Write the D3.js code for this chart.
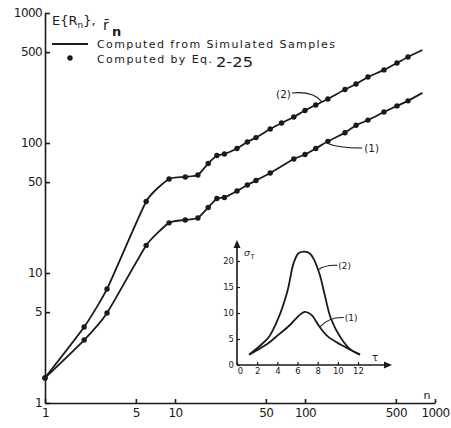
<!DOCTYPE html>
<html lang="en">
<head>
<meta charset="utf-8">
<title>E{Rn} against n</title>
<script src="https://d3js.org/d3.v7.min.js"></script>
<style>
  body { margin: 0; background: #fff; }
  svg text { font-family: "DejaVu Sans", sans-serif; fill: #1a1a1a; }
</style>
</head>
<body>
<script>
// points computed by Eq. 2-25, curve (2)
var nDots2 = [1, 2, 3, 6, 9, 12, 15, 18, 21, 24, 30, 36, 42, 54, 66, 82, 100, 121, 150, 203, 247, 305, 405, 510, 620];
var rDots2 = [1.56, 3.84, 7.54, 35.5, 52.9, 54.8, 56.7, 69.5, 80.1, 82.3, 90.7, 101.8, 110, 128, 142.6, 158.5, 178, 196, 218, 258, 284, 322, 365, 412, 459];
// points computed by Eq. 2-25, curve (1)
var nDots1 = [1, 2, 3, 6, 9, 12, 15, 18, 21, 24, 30, 36, 42, 54, 82, 100, 121, 150, 203, 247, 305, 405, 510, 620];
var rDots1 = [1.56, 3.05, 4.93, 16.3, 24.3, 25.6, 26.5, 31.9, 37.4, 38.1, 42.7, 47.5, 51.5, 58.8, 75.3, 81.6, 90.7, 103, 120, 137, 150, 173, 193, 211];
// simulated curves run a little past the last point
var nLineEnd = 800;
var rLineEnd2 = 519;
var rLineEnd1 = 243;

var nTicks = [1, 5, 10, 50, 100, 500, 1000];
var rTicks = [1, 5, 10, 50, 100, 500, 1000];

// inset: sigma_T against tau
var tau2 = [1.2, 2.4, 3.2, 4.1, 5.0, 5.6, 6.1, 6.7, 7.2, 7.6, 8.2, 8.7, 9.3, 10.3, 11.3, 12.2];
var sig2 = [2, 3.9, 5.5, 9.0, 14.2, 19.5, 21.5, 21.8, 21.5, 20.4, 17.4, 13.5, 9.0, 5.2, 2.9, 2];
var tau1 = [1.2, 3.1, 4.1, 5.2, 6.2, 6.7, 7.2, 7.5, 8.2, 9.0, 10.3, 12.2];
var sig1 = [2, 4.2, 5.8, 7.6, 9.6, 10.2, 9.9, 9.4, 7.3, 5.5, 3.9, 2];
var tauTicks = [0, 2, 4, 6, 8, 10, 12];
var sigTicks = [0, 5, 10, 15, 20];

var w = 451, h = 428;
var ink = "#1a1a1a";

var svg = d3.select("body").append("svg")
  .attr("width", w)
  .attr("height", h);

svg.append("rect").attr("width", w).attr("height", h).attr("fill", "#fff");

//Scales for main chart (log-log)
var x = d3.scaleLog().domain([1, 1000]).range([45, 435]);
var y = d3.scaleLog().domain([1, 1000]).range([403, 13]);

//Y axis
var gy = svg.append("g")
  .attr("transform", "translate(45,0)")
  .call(d3.axisLeft(y).tickValues(rTicks).tickFormat(d3.format("d"))
    .tickSizeInner(-5).tickSizeOuter(0).tickPadding(3));
gy.attr("color", ink).attr("font-size", 12).attr("font-family", null);
gy.selectAll("path, line").attr("stroke-width", 1.6);
gy.selectAll("text").attr("letter-spacing", -0.6);

//X axis
var gx = svg.append("g")
  .attr("transform", "translate(0,403)")
  .call(d3.axisBottom(x).tickValues(nTicks).tickFormat(d3.format("d"))
    .tickSizeInner(-4).tickSizeOuter(0).tickPadding(5));
gx.attr("color", ink).attr("font-size", 12).attr("font-family", null);
gx.selectAll("path, line").attr("stroke-width", 1.6);
gx.selectAll("text").attr("letter-spacing", -0.6);

svg.append("text").attr("x", 427).attr("y", 399)
  .attr("text-anchor", "middle").attr("font-size", 11).text("n");

//Simulated curves
var line = d3.line()
  .x(function(d) { return x(d[0]); })
  .y(function(d) { return y(d[1]); })
  .curve(d3.curveCardinal.tension(0.5));

var curve2 = nDots2.map(function(n, i) { return [n, rDots2[i]]; }).concat([[nLineEnd, rLineEnd2]]);
var curve1 = nDots1.map(function(n, i) { return [n, rDots1[i]]; }).concat([[nLineEnd, rLineEnd1]]);

[curve2, curve1].forEach(function(c) {
  svg.append("path")
    .datum(c)
    .attr("d", line)
    .attr("fill", "none")
    .attr("stroke", ink)
    .attr("stroke-width", 1.8);
});

//Eq. 2-25 dots
svg.append("g").selectAll("circle")
  .data(nDots2.map(function(n, i) { return [n, rDots2[i]]; })
    .concat(nDots1.map(function(n, i) { return [n, rDots1[i]]; })))
  .enter()
  .append("circle")
  .attr("cx", function(d) { return x(d[0]); })
  .attr("cy", function(d) { return y(d[1]); })
  .attr("r", 2.7)
  .attr("fill", ink);

//Curve labels with leaders
var p2 = [x(135), y(207)];
svg.append("path")
  .attr("d", "M" + (p2[0] - 30) + "," + (p2[1] - 9) + " Q" + (p2[0] - 8) + "," + (p2[1] - 11) + " " + p2[0] + "," + p2[1])
  .attr("fill", "none").attr("stroke", ink).attr("stroke-width", 1.1);
svg.append("text").attr("x", p2[0] - 31).attr("y", p2[1] - 4)
  .attr("text-anchor", "end").attr("font-size", 10.5).text("(2)");

var p1 = [x(148), y(100)];
svg.append("path")
  .attr("d", "M" + p1[0] + "," + p1[1] + " Q" + (p1[0] + 10) + "," + (p1[1] + 5) + " " + (p1[0] + 35) + "," + (p1[1] + 5))
  .attr("fill", "none").attr("stroke", ink).attr("stroke-width", 1.1);
svg.append("text").attr("x", p1[0] + 37).attr("y", p1[1] + 9)
  .attr("font-size", 10.5).text("(1)");

//Legend / axis title
var title = svg.append("text").attr("x", 52).attr("y", 25).attr("font-size", 13);
title.append("tspan").text("E{R");
title.append("tspan").attr("font-size", 9).attr("dy", 3).text("n");
title.append("tspan").attr("dy", -3).text("},");
svg.append("text").attr("x", 103).attr("y", 30).attr("font-size", 14).text("r\u0304");
svg.append("text").attr("x", 112).attr("y", 36).attr("font-size", 13)
  .attr("font-weight", "bold").text("n");

svg.append("line")
  .attr("x1", 52).attr("x2", 88).attr("y1", 44).attr("y2", 44)
  .attr("stroke", ink).attr("stroke-width", 1.8);
svg.append("text").attr("x", 97).attr("y", 48).attr("font-size", 11)
  .attr("textLength", 238).attr("lengthAdjust", "spacing")
  .text("Computed from Simulated Samples");
svg.append("circle").attr("cx", 70).attr("cy", 58).attr("r", 2.7).attr("fill", ink);
svg.append("text").attr("x", 97).attr("y", 63).attr("font-size", 11)
  .attr("textLength", 115).attr("lengthAdjust", "spacing")
  .text("Computed by Eq.");
svg.append("text").attr("x", 216).attr("y", 67).attr("font-size", 13.5)
  .attr("textLength", 37).attr("lengthAdjust", "spacingAndGlyphs")
  .text("2-25");

//Inset
var xs = d3.scaleLinear().domain([0, 12]).range([237, 358]);
var ys = d3.scaleLinear().domain([0, 20]).range([365, 261]);

var inset = svg.append("g");

var ix = inset.append("g")
  .attr("transform", "translate(0,365)")
  .call(d3.axisBottom(xs).tickValues(tauTicks).tickSizeInner(-3).tickSizeOuter(0).tickPadding(3));
ix.select(".domain").remove();
ix.attr("color", ink).attr("font-size", 8.5).attr("font-family", null);
ix.selectAll("line").attr("stroke-width", 1.2);
ix.selectAll(".tick").filter(function(d) { return d === 0; }).select("text").attr("dx", 3);

var iy = inset.append("g")
  .attr("transform", "translate(237,0)")
  .call(d3.axisLeft(ys).tickValues(sigTicks).tickSizeInner(-3).tickSizeOuter(0).tickPadding(3));
iy.select(".domain").remove();
iy.attr("color", ink).attr("font-size", 8.5).attr("font-family", null);
iy.selectAll("line").attr("stroke-width", 1.2);

// axis arrows
inset.append("line").attr("x1", 237).attr("y1", 365).attr("x2", 237).attr("y2", 246)
  .attr("stroke", ink).attr("stroke-width", 1.6);
inset.append("path").attr("d", "M237,240 L233.5,248 L240.5,248 Z").attr("fill", ink);
inset.append("line").attr("x1", 237).attr("y1", 365).attr("x2", 386).attr("y2", 365)
  .attr("stroke", ink).attr("stroke-width", 1.6);
inset.append("path").attr("d", "M392,365 L384,361.5 L384,368.5 Z").attr("fill", ink);

var iline = d3.line()
  .x(function(d) { return xs(d[0]); })
  .y(function(d) { return ys(d[1]); })
  .curve(d3.curveCatmullRom.alpha(0.5));

[[tau2, sig2], [tau1, sig1]].forEach(function(s) {
  inset.append("path")
    .datum(s[0].map(function(t, i) { return [t, s[1][i]]; }))
    .attr("d", iline)
    .attr("fill", "none")
    .attr("stroke", ink)
    .attr("stroke-width", 1.8);
});

inset.append("text").attr("x", 244).attr("y", 256).attr("font-size", 9.5)
  .attr("font-style", "italic").text("\u03c3");
inset.append("text").attr("x", 250.5).attr("y", 259).attr("font-size", 6.5).text("T");
inset.append("text").attr("x", 372).attr("y", 361).attr("font-size", 10).text("\u03c4");

var q2 = [xs(8.05), ys(18.3)];
inset.append("path")
  .attr("d", "M" + q2[0] + "," + q2[1] + " Q" + (q2[0] + 7) + "," + (q2[1] - 5) + " " + (q2[0] + 19) + "," + (q2[1] - 4.5))
  .attr("fill", "none").attr("stroke", ink).attr("stroke-width", 1.1);
inset.append("text").attr("x", q2[0] + 20).attr("y", q2[1] - 0.5)
  .attr("font-size", 9).text("(2)");

var q1 = [xs(8.2), ys(7.3)];
inset.append("path")
  .attr("d", "M" + q1[0] + "," + q1[1] + " Q" + (q1[0] + 9) + "," + (q1[1] - 10) + " " + (q1[0] + 24) + "," + (q1[1] - 9.5))
  .attr("fill", "none").attr("stroke", ink).attr("stroke-width", 1.1);
inset.append("text").attr("x", q1[0] + 25).attr("y", q1[1] - 6)
  .attr("font-size", 9).text("(1)");
</script>
</body>
</html>
